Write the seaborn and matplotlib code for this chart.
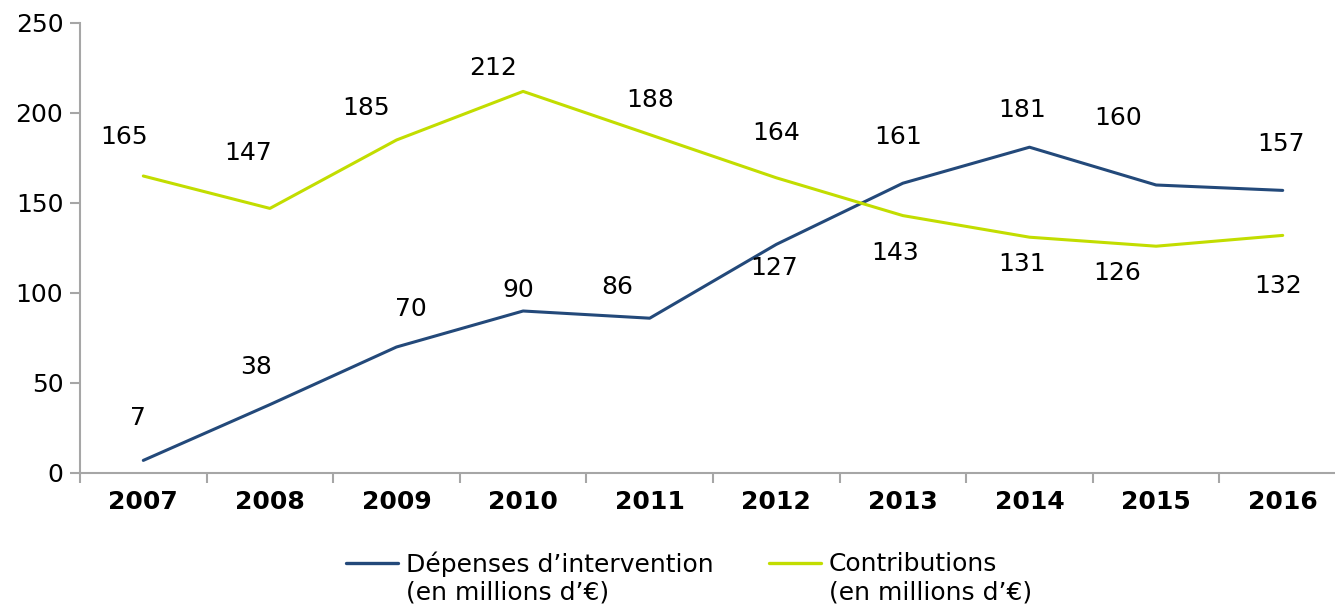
import numpy as np
import pandas as pd
import matplotlib.pyplot as plt
import seaborn as sns
from matplotlib.legend_handler import HandlerLine2D

# Data
years = ["2007", "2008", "2009", "2010", "2011", "2012", "2013", "2014", "2015", "2016"]
depenses = [7, 38, 70, 90, 86, 127, 161, 181, 160, 157]
contributions = [165, 147, 185, 212, 188, 164, 143, 131, 126, 132]
series_names = ["Dépenses d\u2019intervention\n(en millions d\u2019€)",
                "Contributions\n(en millions d\u2019€)"]

# label placement (offset in category units, label height in value units)
dep_label_dx = [-0.04, -0.11, 0.11, -0.04, -0.26, -0.02, -0.04, -0.06, -0.30, -0.01]
dep_label_y = [30.6, 58.9, 91.1, 101.7, 103.3, 113.9, 186.7, 201.7, 197.0, 183.0]
con_label_dx = [-0.15, -0.17, -0.24, -0.24, 0.0, 0.0, -0.06, -0.06, -0.31, -0.04]
con_label_y = [186.7, 178.0, 202.8, 225.0, 207.0, 189.0, 122.0, 116.0, 111.0, 104.0]

blue = "#23497A"
green = "#C2DD00"
grey = "#A6A6A6"


class TopLineHandler(HandlerLine2D):
    # put the legend swatch next to the first line of a two-line label
    def create_artists(self, legend, orig_handle, xdescent, ydescent,
                       width, height, fontsize, trans):
        arts = super().create_artists(legend, orig_handle, xdescent, ydescent,
                                      width, height, fontsize, trans)
        for a in arts:
            a.set_ydata(np.asarray(a.get_ydata()) + 0.62 * fontsize)
        return arts


sns.set_theme(style="white")
plt.rcParams["font.family"] = ["DejaVu Sans"]
plt.rcParams["text.color"] = "black"

x = np.arange(len(years))
df = pd.DataFrame({
    "x": np.concatenate([x, x]),
    "val": depenses + contributions,
    "serie": [series_names[0]] * len(x) + [series_names[1]] * len(x),
})

fig = plt.figure(figsize=(13.35, 6.09), dpi=100)
ax = fig.add_axes([80 / 1335, 1 - 473 / 609, 1266 / 1335, 450 / 609])

sns.lineplot(data=df, x="x", y="val", hue="serie", palette=[blue, green],
             linewidth=2.2, ax=ax, legend=False)

for i in x:
    ax.text(i + dep_label_dx[i], dep_label_y[i], str(depenses[i]),
            ha="center", va="center", fontsize=18, color="black")
    ax.text(i + con_label_dx[i], con_label_y[i], str(contributions[i]),
            ha="center", va="center", fontsize=18, color="black")

ax.set_xlim(-0.5, len(years) - 0.5)
ax.set_ylim(0, 250)
ax.set_yticks(range(0, 251, 50))
ax.set_xticks(x)
ax.set_xticklabels(years, fontsize=18, fontweight="bold")
ax.set_xticks(np.arange(-0.5, len(years), 1), minor=True)
ax.tick_params(axis="x", which="major", length=0, pad=12, colors="black")
ax.tick_params(axis="x", which="minor", length=7, width=1.5, color=grey,
               direction="out", bottom=True)
ax.tick_params(axis="y", length=7, width=1.5, color=grey, direction="out",
               labelsize=18, labelcolor="black", left=True, pad=5)
ax.set_xlabel("")
ax.set_ylabel("")

for side in ["top", "right"]:
    ax.spines[side].set_visible(False)
for side in ["left", "bottom"]:
    ax.spines[side].set_color(grey)
    ax.spines[side].set_linewidth(1.5)

handles = [plt.Line2D([], [], color=blue, linewidth=2.4),
           plt.Line2D([], [], color=green, linewidth=2.4)]
fig.legend(handles, series_names, loc="lower center", ncol=2, frameon=False,
           fontsize=18, handlelength=2.1, handletextpad=0.3, columnspacing=2.2,
           bbox_to_anchor=(0.516, -0.03), labelcolor="black",
           handler_map={plt.Line2D: TopLineHandler()})

fig.savefig("out.png", dpi=100)
